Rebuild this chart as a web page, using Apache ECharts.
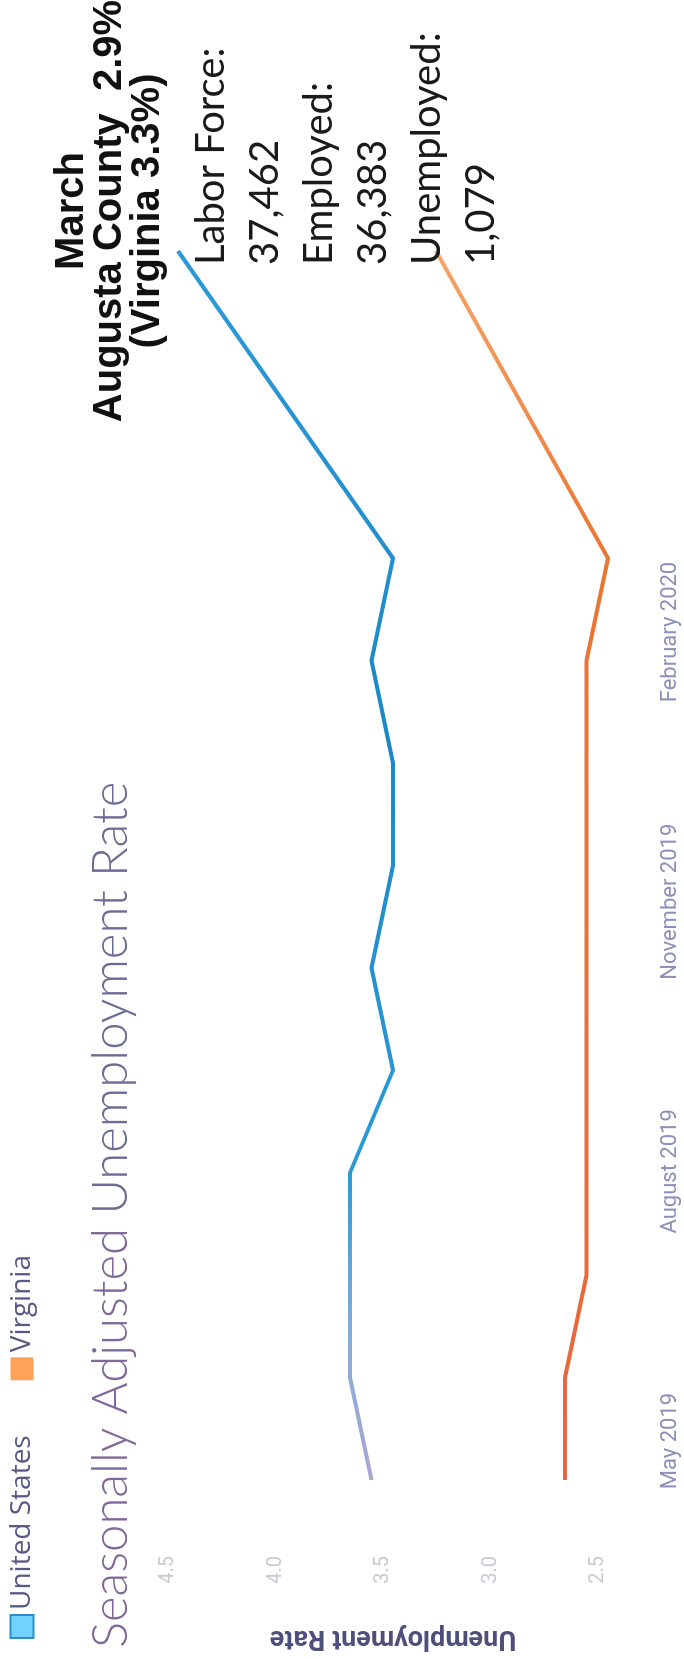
<!DOCTYPE html>
<html>
<head>
<meta charset="utf-8">
<script src="https://cdn.jsdelivr.net/npm/echarts@6/dist/echarts.min.js"></script>
<style>
html,body{margin:0;padding:0;background:#fff;width:684px;height:1659px;overflow:hidden;}
#chart{position:absolute;left:0;top:0;width:1659px;height:684px;transform-origin:0 0;transform:translate(0px,1659px) rotate(-90deg);}
</style>
</head>
<body>
<div id="chart"></div>
<script>
// month slots along the time axis (as drawn)
const months = ['May 2019','Jun 2019','Jul 2019','Aug 2019','Sep 2019','Oct 2019','Nov 2019','Dec 2019','Jan 2020','Feb 2020','Mar 2020','Apr 2020','May 2020'];
const usRate = [3.6,3.7,3.7,3.7,3.5,3.6,3.5,3.5,3.6,3.5,null,null,4.5];
const vaRate = [2.7,2.7,2.6,2.6,2.6,2.6,2.6,2.6,2.6,2.5,null,null,3.3];
const xTickLabels = ['May 2019','August 2019','November 2019','February 2020'];
const yMin = 2.5, yMax = 4.5, yStep = 0.5;
const titleParts = ['Seasonally Adjusted ','Unemployment Rate'];
const yAxisName = 'Unemployment Rate';
const seriesNames = ['United States','Virginia'];
const headline = ['March','Augusta County  2.9%','(Virginia 3.3%)'];
const stats = ['Labor Force:','37,462','Employed:','36,383','Unemployed:','1,079'];

const chart = echarts.init(document.getElementById('chart'), null, {renderer:'canvas'});
const G = echarts.graphic;
chart.setOption({
  backgroundColor:'#ffffff',
  animation:false,
  title:[
    {text:'{a|'+titleParts[0]+'}{b|'+titleParts[1]+'}', left:6, top:82,
     textStyle:{rich:{
       a:{fontFamily:'Lato', fontWeight:300, fontSize:49, color:'#80699a'},
       b:{fontFamily:'Lato', fontWeight:300, fontSize:49, color:'#6b6d96'}}}},
    {text:headline.join('\n'), left:1443, top:48, textAlign:'center',
     textStyle:{fontFamily:'Liberation Sans', fontWeight:'bold', fontSize:40, lineHeight:38, color:'#111'}},
    {text:stats.join('\n'), left:1389, top:179,
     textStyle:{fontFamily:'Lato', fontWeight:'normal', fontSize:40, lineHeight:54, color:'#1a1a1a'}}
  ],
  legend:{
    left:15, top:3, itemWidth:23, itemHeight:23, itemGap:55, icon:'rect',
    textStyle:{fontFamily:'Open Sans', fontSize:28, color:'#585a86'},
    data:[
      {name:seriesNames[0], itemStyle:{color:'#72d2fb', borderColor:'#2b8ccc', borderWidth:2}},
      {name:seriesNames[1], itemStyle:{color:'#ffa257', borderWidth:0}}
    ]
  },
  grid:[
    {left:179, right:251, top:178, bottom:76},
    {left:218, right:632, top:600, bottom:29}
  ],
  xAxis:[
    {type:'category', gridIndex:0, data:months, boundaryGap:false,
     axisLine:{show:false}, axisTick:{show:false}, axisLabel:{show:false}, splitLine:{show:false}},
    {type:'category', gridIndex:1, data:xTickLabels, boundaryGap:false,
     axisLine:{show:false}, axisTick:{show:false}, splitLine:{show:false},
     axisLabel:{margin:4, interval:0, fontFamily:'Roboto', fontSize:22, color:'#8d8fbb'}}
  ],
  yAxis:[
    {type:'value', gridIndex:0, min:yMin, max:yMax, interval:yStep,
     axisLine:{show:false}, axisTick:{show:false}, splitLine:{show:false},
     axisLabel:{margin:76, verticalAlign:'bottom', fontFamily:'Roboto', fontSize:20, color:'#c9c9d4', formatter:v=>v.toFixed(1)},
     name:yAxisName, nameLocation:'middle', nameGap:144,
     nameTextStyle:{fontFamily:'Roboto', fontWeight:'bold', fontSize:27, color:'#4f5079'}},
    {type:'value', gridIndex:1, show:false, min:0, max:1}
  ],
  series:[
    {name:seriesNames[0], type:'line', xAxisIndex:0, yAxisIndex:0, data:usRate, connectNulls:true,
     showSymbol:false, symbol:'none', itemStyle:{color:'#2a95d3'},
     lineStyle:{width:4, color:new G.LinearGradient(0,0,1,0,[
       {offset:0,color:'#a9a7d2'},{offset:0.12,color:'#86acd8'},{offset:0.25,color:'#2c9ad6'},
       {offset:0.6,color:'#1c88c6'},{offset:1,color:'#2b9bd8'}])}},
    {name:seriesNames[1], type:'line', xAxisIndex:0, yAxisIndex:0, data:vaRate, connectNulls:true,
     showSymbol:false, symbol:'none', itemStyle:{color:'#ffa257'},
     lineStyle:{width:4, color:new G.LinearGradient(0,0,1,0,[
       {offset:0,color:'#e8673a'},{offset:0.75,color:'#eb7633'},{offset:1,color:'#f7a468'}])}}
  ]
});
</script>
</body>
</html>
